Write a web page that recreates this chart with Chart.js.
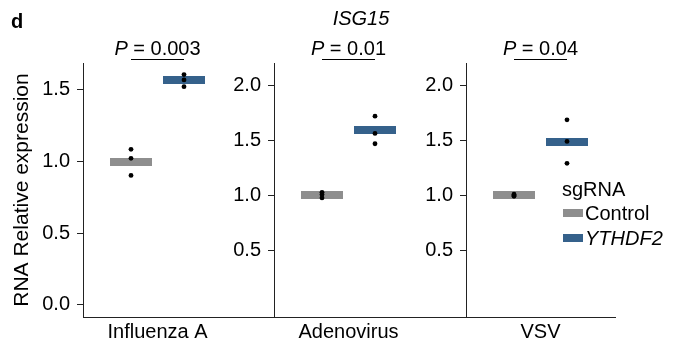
<!DOCTYPE html>
<html lang="en">
<head>
<meta charset="UTF-8">
<title>ISG15 relative expression</title>
<script src="https://cdn.jsdelivr.net/npm/chart.js@4.4.0"></script>
<style>
  body { margin: 0; background: #fff; }
  #wrap { position: relative; width: 673px; height: 343px; }
  #wrap canvas { position: absolute; left: 0; top: 0; }
</style>
</head>
<body>
<div id="wrap">
  <canvas id="c0" width="673" height="343"></canvas>
  <canvas id="c1" width="673" height="343"></canvas>
  <canvas id="c2" width="673" height="343"></canvas>
</div>
<script>
// values
const virusNames = ['Influenza A', 'Adenovirus', 'VSV'];
const groups = ['Control', 'YTHDF2'];
const pValues = ['0.003', '0.01', '0.04'];
const controlReps = [[1.086, 1.023, 0.904], [1.027, 1.006, 0.976], [1.010, 0.990, 1.000]];
const ythdf2Reps = [[1.607, 1.570, 1.523], [1.722, 1.564, 1.470], [1.688, 1.491, 1.291]];
const controlMeans = [1.0, 1.0, 1.0];
const ythdf2Means = [1.566, 1.597, 1.490];
const yTicks = [[0, 0.5, 1, 1.5], [0.5, 1, 1.5, 2], [0.5, 1, 1.5, 2]];
const yRanges = [[-0.084, 1.688], [-0.111, 2.207], [-0.111, 2.207]];

// layout of the three panels (pixels)
const axisLeft = [83, 274, 466];
const axisRight = [300, 493, 615];
const yAxisWidth = [83, 60, 60];
const catOffset = 48, catStep = 53;

const grey = '#8e8e8e';
const blue = '#35618b';
const axisColor = '#222';
const fontFamily = "'Liberation Sans', Arial, Helvetica, sans-serif";

Chart.defaults.font.family = fontFamily;
Chart.defaults.font.size = 20;
Chart.defaults.color = '#000';

function barImage(color) {
  const c = document.createElement('canvas');
  c.width = 42; c.height = 8;
  const g = c.getContext('2d');
  g.fillStyle = color;
  g.fillRect(0, 0, 42, 8);
  return c;
}

// P value bracket above each panel
const bracketPlugin = {
  id: 'bracket',
  afterDraw(chart, args, opts) {
    const {ctx, chartArea} = chart;
    const x = chart.scales.x;
    const x0 = x.getPixelForValue(0), x1 = x.getPixelForValue(1);
    const ly = chartArea.top - 3.5;
    ctx.save();
    ctx.strokeStyle = '#000';
    ctx.lineWidth = 1;
    ctx.beginPath();
    ctx.moveTo(x0, ly);
    ctx.lineTo(x1, ly);
    ctx.stroke();
    const pPart = 'P', rest = ' = ' + opts.p;
    ctx.font = 'italic 20px ' + fontFamily;
    const w1 = ctx.measureText(pPart).width;
    ctx.font = '20px ' + fontFamily;
    const w2 = ctx.measureText(rest).width;
    let tx = (x0 + x1) / 2 - (w1 + w2) / 2;
    ctx.textBaseline = 'alphabetic';
    ctx.textAlign = 'left';
    ctx.fillStyle = '#000';
    ctx.font = 'italic 20px ' + fontFamily;
    ctx.fillText(pPart, tx, chartArea.top - 8);
    ctx.font = '20px ' + fontFamily;
    ctx.fillText(rest, tx + w1, chartArea.top - 8);
    ctx.restore();
  }
};

// panel letter and gene title
const headerPlugin = {
  id: 'header',
  afterDraw(chart) {
    const ctx = chart.ctx;
    ctx.save();
    ctx.fillStyle = '#000';
    ctx.textBaseline = 'alphabetic';
    ctx.font = 'bold 20px ' + fontFamily;
    ctx.textAlign = 'left';
    ctx.fillText('d', 11, 28);
    ctx.font = 'italic 20px ' + fontFamily;
    ctx.textAlign = 'center';
    ctx.fillText('ISG15', 361, 25);
    ctx.restore();
  }
};

// sgRNA legend, built from the dataset labels and colours
const legendPlugin = {
  id: 'sgLegend',
  afterDraw(chart) {
    const ctx = chart.ctx;
    const items = chart.data.datasets.filter(d => d.legendColor);
    ctx.save();
    ctx.fillStyle = '#000';
    ctx.textBaseline = 'alphabetic';
    ctx.textAlign = 'left';
    ctx.font = '20px ' + fontFamily;
    ctx.fillText('sgRNA', 562, 196);
    items.forEach((d, k) => {
      const base = 220 + k * 25;
      ctx.fillStyle = d.legendColor;
      ctx.fillRect(563, base - 11, 20, 8);
      ctx.fillStyle = '#000';
      ctx.font = (k === 1 ? 'italic ' : '') + '20px ' + fontFamily;
      ctx.fillText(d.label, 585, base);
    });
    ctx.restore();
  }
};

function makePanel(i) {
  const width = axisRight[i] - axisLeft[i];
  const dots = [];
  controlReps[i].forEach(v => dots.push({x: 0, y: v}));
  ythdf2Reps[i].forEach(v => dots.push({x: 1, y: v}));
  const plugins = [bracketPlugin];
  if (i === 0) plugins.push(headerPlugin);
  if (i === 2) plugins.push(legendPlugin);

  return new Chart(document.getElementById('c' + i), {
    type: 'scatter',
    data: {
      datasets: [
        {
          label: 'replicates',
          data: dots,
          pointRadius: 2.4,
          pointBackgroundColor: '#000',
          pointBorderWidth: 0
        },
        {
          label: groups[0],
          legendColor: grey,
          data: [{x: 0, y: controlMeans[i]}],
          pointStyle: barImage(grey),
          pointRadius: 4
        },
        {
          label: groups[1],
          legendColor: blue,
          data: [{x: 1, y: ythdf2Means[i]}],
          pointStyle: barImage(blue),
          pointRadius: 4
        }
      ]
    },
    options: {
      responsive: false,
      animation: false,
      devicePixelRatio: 1,
      layout: {
        padding: {left: axisLeft[i] - yAxisWidth[i], right: 673 - axisRight[i], top: 63, bottom: 0}
      },
      plugins: {
        legend: {display: false},
        tooltip: {enabled: false},
        bracket: {p: pValues[i]}
      },
      scales: {
        x: {
          type: 'linear',
          min: -catOffset / catStep,
          max: (width - catOffset) / catStep,
          grid: {display: false},
          border: {display: true, color: axisColor, width: 1},
          afterBuildTicks: s => { s.ticks = [{value: 0.5}]; },
          ticks: {callback: () => virusNames[i], padding: -5, maxRotation: 0, autoSkip: false},
          afterFit: s => { s.height = 26; }
        },
        y: {
          min: yRanges[i][0],
          max: yRanges[i][1],
          afterBuildTicks: s => { s.ticks = yTicks[i].map(v => ({value: v})); },
          ticks: {callback: v => v.toFixed(1), padding: 7},
          grid: {drawOnChartArea: false, tickLength: 6, color: axisColor},
          border: {display: true, color: axisColor, width: 1},
          title: {
            display: i === 0,
            text: 'RNA Relative expression',
            font: {size: 21},
            padding: {top: 10, bottom: 0}
          },
          afterFit: s => { s.width = yAxisWidth[i]; }
        }
      }
    },
    plugins: plugins
  });
}

[0, 1, 2].forEach(makePanel);
</script>
</body>
</html>
